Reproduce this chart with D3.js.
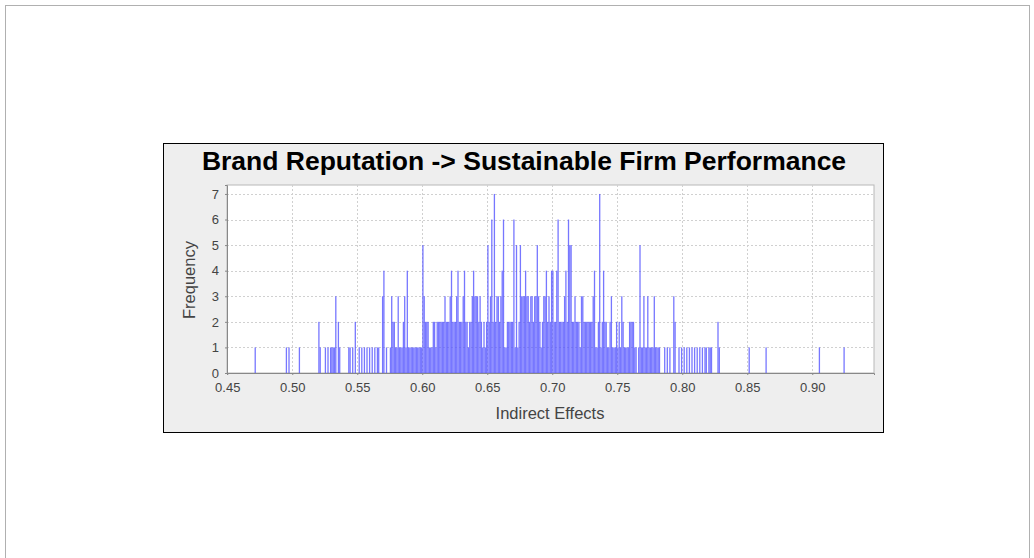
<!DOCTYPE html>
<html>
<head>
<meta charset="utf-8">
<script src="https://cdn.jsdelivr.net/npm/d3@7"></script>
<style>
  body { margin: 0; background: #fff; }
  text { font-family: "Liberation Sans", Arial, sans-serif; }
</style>
</head>
<body>
<div id="vis"></div>
<script>
// histogram bins (left edge of each 0.001 wide bin) and their frequency
var binLeft = [
  0.471, 0.495, 0.497, 0.505, 0.520, 0.521, 0.525, 0.527, 0.529, 0.530, 0.531, 0.532, 0.533, 0.535, 0.536,
  0.543, 0.544, 0.546, 0.548, 0.551, 0.553, 0.555, 0.557, 0.559, 0.561, 0.563, 0.565, 0.566, 0.569, 0.570,
  0.572, 0.575, 0.576, 0.577, 0.578, 0.579, 0.580, 0.581, 0.582, 0.583, 0.584, 0.585, 0.586, 0.587, 0.588,
  0.589, 0.590, 0.591, 0.592, 0.593, 0.594, 0.595, 0.596, 0.597, 0.598, 0.599,
  0.600, 0.601, 0.602, 0.603, 0.604, 0.605, 0.606, 0.607, 0.608, 0.609,
  0.610, 0.611, 0.612, 0.613, 0.614, 0.615, 0.616, 0.617, 0.618, 0.619,
  0.620, 0.621, 0.622, 0.623, 0.624, 0.625, 0.626, 0.627, 0.628, 0.629,
  0.630, 0.631, 0.632, 0.633, 0.634, 0.635, 0.636, 0.637, 0.638, 0.639,
  0.640, 0.641, 0.642, 0.643, 0.644, 0.645, 0.646, 0.647, 0.648, 0.649,
  0.650, 0.651, 0.652, 0.653, 0.654, 0.655, 0.656, 0.657, 0.658, 0.659,
  0.660, 0.661, 0.662, 0.663, 0.664, 0.665, 0.666, 0.667, 0.668, 0.669,
  0.670, 0.671, 0.672, 0.673, 0.674, 0.675, 0.676, 0.677, 0.678, 0.679,
  0.680, 0.681, 0.682, 0.683, 0.684, 0.685, 0.686, 0.687, 0.688, 0.689,
  0.690, 0.691, 0.692, 0.693, 0.694, 0.695, 0.696, 0.697, 0.698, 0.699,
  0.700, 0.701, 0.702, 0.703, 0.704, 0.705, 0.706, 0.707, 0.708, 0.709,
  0.710, 0.711, 0.712, 0.713, 0.714, 0.715, 0.716, 0.717, 0.718, 0.719,
  0.720, 0.721, 0.722, 0.723, 0.724, 0.725, 0.726, 0.727, 0.728, 0.729,
  0.730, 0.731, 0.732, 0.733, 0.734, 0.735, 0.736, 0.737, 0.738, 0.739,
  0.740, 0.741, 0.742, 0.743, 0.744, 0.745, 0.746, 0.747, 0.748, 0.749,
  0.750, 0.751, 0.752, 0.753, 0.754, 0.755, 0.756, 0.757, 0.758, 0.759,
  0.760, 0.761, 0.762, 0.763, 0.764, 0.766, 0.767, 0.768, 0.769,
  0.770, 0.771, 0.772, 0.773, 0.774, 0.775, 0.776, 0.777, 0.778, 0.779,
  0.780, 0.781, 0.782, 0.786, 0.788, 0.790, 0.793, 0.794, 0.797, 0.799,
  0.801, 0.803, 0.805, 0.807, 0.809, 0.811, 0.813, 0.815, 0.817, 0.818,
  0.820, 0.821, 0.822, 0.827, 0.828, 0.851, 0.864, 0.905, 0.924
];
var frequency = [
  1, 1, 1, 1, 2, 1, 1, 1, 1, 1, 1, 1, 3, 2, 1,
  1, 1, 1, 2, 1, 1, 1, 1, 1, 1, 1, 1, 1, 3, 4,
  1, 1, 3, 2, 2, 1, 1, 3, 1, 1, 1, 2, 3, 1, 4,
  1, 1, 1, 1, 1, 1, 1, 1, 1, 1, 1,
  5, 3, 2, 2, 2, 1, 1, 1, 2, 2,
  1, 2, 2, 2, 2, 2, 2, 3, 2, 2,
  2, 3, 4, 2, 2, 2, 3, 4, 2, 2,
  2, 3, 4, 2, 2, 1, 2, 2, 3, 4,
  3, 3, 3, 2, 3, 2, 1, 2, 1, 2,
  5, 2, 3, 6, 2, 7, 2, 3, 3, 2,
  3, 4, 6, 1, 1, 2, 2, 2, 2, 2,
  6, 1, 5, 1, 2, 5, 3, 3, 3, 4,
  3, 3, 2, 3, 3, 2, 3, 3, 5, 3,
  2, 1, 2, 3, 3, 4, 2, 3, 2, 4,
  4, 2, 2, 4, 6, 2, 2, 2, 2, 3,
  4, 2, 6, 5, 5, 2, 2, 3, 2, 2,
  2, 1, 3, 3, 2, 2, 2, 2, 2, 2,
  2, 3, 4, 1, 1, 2, 7, 1, 2, 4,
  2, 2, 1, 1, 2, 3, 1, 1, 1, 2,
  1, 2, 1, 3, 2, 1, 1, 1, 1, 2,
  2, 2, 2, 1, 1, 1, 5, 1, 1,
  3, 1, 1, 3, 1, 1, 1, 1, 3, 1,
  1, 1, 1, 1, 1, 1, 3, 2, 1, 1,
  1, 1, 1, 1, 1, 1, 1, 1, 1, 1,
  1, 1, 1, 2, 1, 1, 1, 1, 1
];
var binWidth = 0.001;
var xTicks = [0.45, 0.50, 0.55, 0.60, 0.65, 0.70, 0.75, 0.80, 0.85, 0.90];
var yTicks = [0, 1, 2, 3, 4, 5, 6, 7];

var title = "Brand Reputation -> Sustainable Firm Performance";
var xLabel = "Indirect Effects";
var yLabel = "Frequency";

var width = 1034, height = 558;

var svg = d3.select("#vis").append("svg")
    .attr("width", width)
    .attr("height", height);

// outer frame of the page
svg.append("rect")
    .attr("x", 5.5).attr("y", 5.5)
    .attr("width", 1024).attr("height", 560)
    .style("fill", "none")
    .style("stroke", "#b0b0b0");

// chart panel
svg.append("rect")
    .attr("x", 163.5).attr("y", 143.5)
    .attr("width", 720).attr("height", 289)
    .style("fill", "#eeeeee")
    .style("stroke", "#000");

svg.append("text")
    .attr("x", 524).attr("y", 170)
    .attr("text-anchor", "middle")
    .style("font-size", "26.5px")
    .style("font-weight", "bold")
    .style("fill", "#000")
    .text(title);

// plot area (window.top is read-only, so no "top" here)
var plotL = 227, plotR = 874, plotT = 185, plotB = 373;

var x = d3.scaleLinear().domain([0.4498, 0.9475]).range([plotL, plotR]);
var y = d3.scaleLinear().domain([0, 7.35]).range([plotB, plotT]);

svg.append("rect")
    .attr("x", plotL).attr("y", plotT)
    .attr("width", plotR - plotL).attr("height", plotB - plotT)
    .style("fill", "#fff")
    .style("stroke", "#b8b8b8");

// grid
svg.append("g").selectAll("line").data(xTicks).enter().append("line")
    .attr("x1", function(d) { return Math.round(x(d)) + 0.5; })
    .attr("x2", function(d) { return Math.round(x(d)) + 0.5; })
    .attr("y1", plotT).attr("y2", plotB)
    .style("stroke", "#d0d0d0")
    .style("stroke-dasharray", "2,2");

svg.append("g").selectAll("line").data(yTicks).enter().append("line")
    .attr("x1", plotL).attr("x2", plotR)
    .attr("y1", function(d) { return Math.round(y(d)) + 0.5; })
    .attr("y2", function(d) { return Math.round(y(d)) + 0.5; })
    .style("stroke", "#d0d0d0")
    .style("stroke-dasharray", "2,2");

// bars
var bars = binLeft.map(function(b, i) { return { x0: b, n: frequency[i] }; });

svg.append("g").selectAll("rect").data(bars).enter().append("rect")
    .attr("x", function(d) { return x(d.x0); })
    .attr("width", function(d) { return x(d.x0 + binWidth) - x(d.x0); })
    .attr("y", function(d) { return y(d.n); })
    .attr("height", function(d) { return y(0) - y(d.n); })
    .style("fill", "#5555ff")
    .style("opacity", 0.8);

// axes
var xAxis = d3.axisBottom(x).tickValues(xTicks).tickFormat(d3.format(".2f")).tickSize(2).tickPadding(8);
var yAxis = d3.axisLeft(y).tickValues(yTicks).tickFormat(d3.format("d")).tickSize(2).tickPadding(6);

var gx = svg.append("g").attr("transform", "translate(0," + plotB + ")").call(xAxis);
var gy = svg.append("g").attr("transform", "translate(" + plotL + ",0)").call(yAxis);

[gx, gy].forEach(function(g) {
  g.select(".domain").style("stroke", "#888");
  g.selectAll(".tick line").style("stroke", "#888");
  g.selectAll(".tick text")
      .style("font-family", "Liberation Sans, Arial, sans-serif")
      .style("font-size", "13px")
      .style("fill", "#444");
});

svg.append("text")
    .attr("x", 550).attr("y", 419)
    .attr("text-anchor", "middle")
    .style("font-size", "16.5px")
    .style("fill", "#444")
    .text(xLabel);

svg.append("text")
    .attr("transform", "translate(195,280) rotate(-90)")
    .attr("text-anchor", "middle")
    .style("font-size", "16.5px")
    .style("fill", "#444")
    .text(yLabel);
</script>
</body>
</html>
